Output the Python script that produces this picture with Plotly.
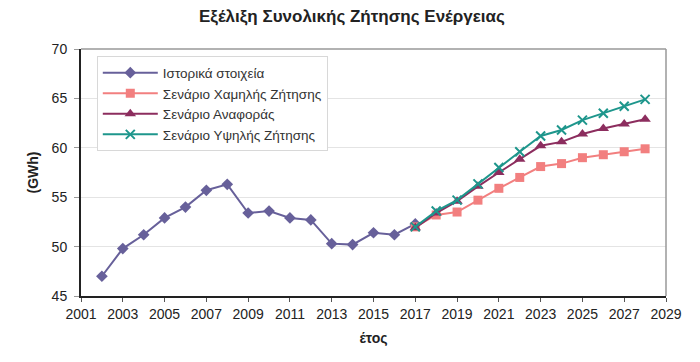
import plotly.graph_objects as go

hist_years = list(range(2002, 2018))
hist_vals = [47.0, 49.8, 51.2, 52.9, 54.0, 55.7, 56.3, 53.4, 53.6, 52.9, 52.7, 50.3, 50.2, 51.4, 51.2, 52.3]

scen_years = list(range(2017, 2029))
low_vals = [52.0, 53.2, 53.5, 54.7, 55.9, 57.0, 58.1, 58.4, 59.0, 59.3, 59.6, 59.9]
ref_vals = [51.9, 53.4, 54.6, 56.1, 57.5, 58.85, 60.2, 60.6, 61.4, 61.95, 62.4, 62.9]
high_vals = [52.0, 53.6, 54.7, 56.35, 58.0, 59.6, 61.2, 61.8, 62.8, 63.5, 64.2, 64.9]

names = ["Ιστορικά στοιχεία", "Σενάριο Χαμηλής Ζήτησης", "Σενάριο Αναφοράς", "Σενάριο Υψηλής Ζήτησης"]
title = "Εξέλιξη Συνολικής Ζήτησης Ενέργειας"
x_title = "έτος"
y_title = "(GWh)"

fig = go.Figure()
fig.add_trace(go.Scatter(x=hist_years, y=hist_vals, name=names[0], mode="lines+markers",
                         line=dict(color="#67609A", width=2),
                         marker=dict(symbol="diamond", size=9, color="#67609A")))
fig.add_trace(go.Scatter(x=scen_years, y=low_vals, name=names[1], mode="lines+markers",
                         line=dict(color="#F27F7F", width=2),
                         marker=dict(symbol="square", size=9, color="#F27F7F")))
fig.add_trace(go.Scatter(x=scen_years, y=ref_vals, name=names[2], mode="lines+markers",
                         line=dict(color="#8C2D5E", width=2),
                         marker=dict(symbol="triangle-up", size=10, color="#8C2D5E")))
fig.add_trace(go.Scatter(x=scen_years, y=high_vals, name=names[3], mode="lines+markers",
                         line=dict(color="#1E968C", width=2),
                         marker=dict(symbol="x-thin", size=9, line=dict(color="#1E968C", width=2), color="#1E968C")))

font = "Liberation Sans, Arial, sans-serif"
fig.update_layout(
    width=692, height=354,
    margin=dict(l=73, r=34, t=41, b=66),
    paper_bgcolor="white", plot_bgcolor="white",
    font=dict(family=font, size=14, color="#222222"),
    title=dict(text="<b>" + title + "</b>", xref="container", x=0.497, xanchor="center",
               y=0.977, yanchor="middle", font=dict(size=17, color="#222222")),
    showlegend=True,
    legend=dict(x=0.027, y=0.97, xanchor="left", yanchor="top",
                bgcolor="white", bordercolor="#D8D8D8", borderwidth=1,
                font=dict(size=13.5, color="#333333"), tracegroupgap=0,
                itemwidth=55, entrywidth=240, entrywidthmode="pixels"),
    xaxis=dict(range=[2001, 2029], tickmode="linear", tick0=2001, dtick=2,
               showgrid=False, zeroline=False,
               showline=True, linecolor="#222222", linewidth=2, mirror=False,
               ticks="outside", ticklen=4, tickcolor="#555555",
               title=dict(text="<b>" + x_title + "</b>", font=dict(size=14), standoff=12),
               tickfont=dict(size=14)),
    yaxis=dict(range=[45, 70], tickmode="linear", tick0=45, dtick=5,
               showgrid=True, gridcolor="#E4E4E4", zeroline=False,
               showline=True, linecolor="#222222", linewidth=2,
               ticks="outside", ticklen=5, tickcolor="#999999", ticklabelstandoff=4,
               title=dict(text="<b>" + y_title + "</b>", font=dict(size=14), standoff=10),
               tickfont=dict(size=14)),
    shapes=[dict(type="line", xref="paper", yref="paper", x0=0, x1=1, y0=1, y1=1,
                 line=dict(color="#999999", width=1.5)),
            dict(type="line", xref="paper", yref="paper", x0=1, x1=1, y0=0, y1=1,
                 line=dict(color="#999999", width=1.5))],
)

fig.write_html("out.html")
